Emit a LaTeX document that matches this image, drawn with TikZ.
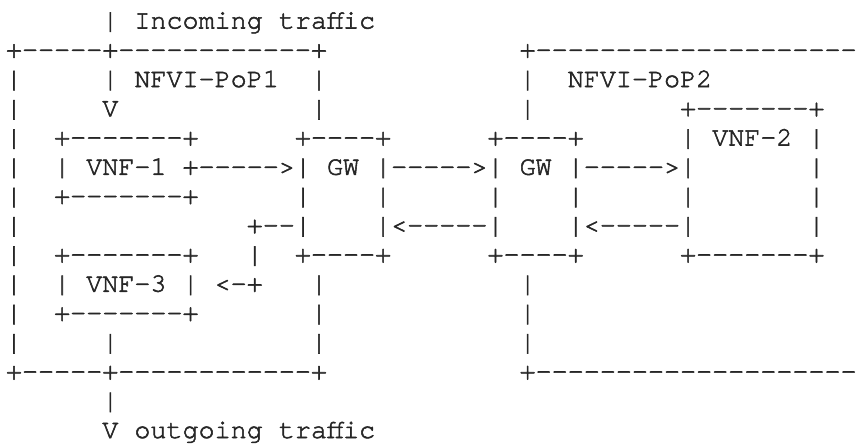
\documentclass[tikz,border=0pt]{standalone}
\usepackage{fontspec}
\setmonofont{texgyrecursor-regular.otf}[FakeBold=2]
\tikzset{asc/.style={anchor=base west, inner sep=0pt, outer sep=0pt, text=black!85,
  font=\ttfamily\fontsize{26.75pt}{29.25pt}\selectfont}}
\begin{document}
\begin{tikzpicture}[x=1pt,y=-1pt]
\useasboundingbox (0,0) rectangle (861,445);
\clip (0,0) rectangle (861,445);
\node[asc] (l0)  at (6,28.5)   {~~~~~~|~Incoming~traffic};
\node[asc] (l1)  at (6,57.75)  {+-----+------------+~~~~~~~~~~~~+--------------------};
\node[asc] (l2)  at (6,87)     {|~~~~~|~NFVI-PoP1~~|~~~~~~~~~~~~|~~NFVI-PoP2};
\node[asc] (l3)  at (6,116.25) {|~~~~~V~~~~~~~~~~~~|~~~~~~~~~~~~|~~~~~~~~~+-------+};
\node[asc] (l4)  at (6,145.5)  {|~~+-------+~~~~~~+----+~~~~~~+----+~~~~~~|~VNF-2~|};
\node[asc] (l5)  at (6,174.75) {|~~|~VNF-1~+----->|~GW~|----->|~GW~|----->|~~~~~~~|};
\node[asc] (l6)  at (6,204)    {|~~+-------+~~~~~~|~~~~|~~~~~~|~~~~|~~~~~~|~~~~~~~|};
\node[asc] (l7)  at (6,233.25) {|~~~~~~~~~~~~~~+--|~~~~|<-----|~~~~|<-----|~~~~~~~|};
\node[asc] (l8)  at (6,262.5)  {|~~+-------+~~~|~~+----+~~~~~~+----+~~~~~~+-------+};
\node[asc] (l9)  at (6,291.75) {|~~|~VNF-3~|~<-+~~~|~~~~~~~~~~~~|};
\node[asc] (l10) at (6,321)    {|~~+-------+~~~~~~~|~~~~~~~~~~~~|};
\node[asc] (l11) at (6,350.25) {|~~~~~|~~~~~~~~~~~~|~~~~~~~~~~~~|};
\node[asc] (l12) at (6,379.5)  {+-----+------------+~~~~~~~~~~~~+--------------------};
\node[asc] (l13) at (6,408.75) {~~~~~~|};
\node[asc] (l14) at (6,438)    {~~~~~~V~outgoing~traffic};
\end{tikzpicture}
\end{document}
